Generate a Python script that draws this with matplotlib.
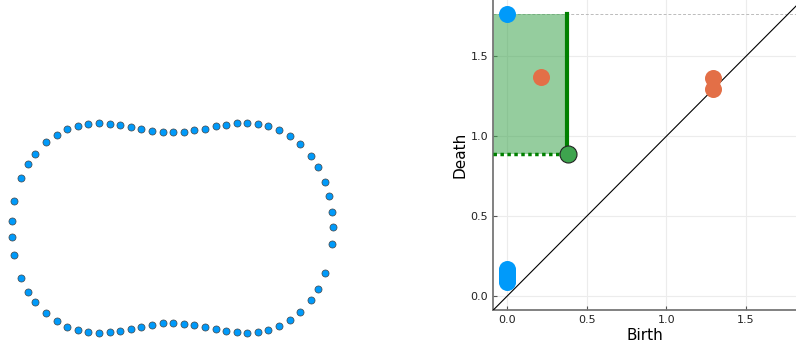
import matplotlib.pyplot as plt
import numpy as np

# point cloud (pixel-like units, y grows downward)
cloud_x = [77.7, 88.3, 99, 109.7, 120.3, 131, 141.3, 152, 162.7, 173.3, 183.7, 194.3,
           205, 215.7, 226.3, 237, 247.3, 257.7, 268.3, 279, 289.7, 300.3, 310.7, 318,
           325.3, 329.3, 332.3, 333, 332.3, 325.3, 318, 310.7, 300.3, 289.7, 279, 268.3,
           257.7, 247.3, 237, 226.3, 215.7, 205, 194.3, 183.7, 173.3, 162.7, 152, 141.3,
           131, 120.3, 109.7, 99, 88.3, 77.7, 67.3, 56.7, 46.3, 35.3, 28.3, 21.3,
           14.3, 11.7, 11.7, 14.3, 21.3, 28.3, 35.3, 46.3, 56.7, 67.3]
cloud_y = [125.7, 123.7, 123, 123.7, 125.3, 127, 129.3, 131, 132.3, 132.3, 132, 130.3,
           128.7, 126.3, 124.7, 123.3, 123.3, 124.3, 126.3, 130.3, 136, 144.3, 156, 167.3,
           182.3, 196.3, 212, 226.7, 244, 273.3, 288.7, 299.7, 311.7, 320, 326, 329.7,
           331.7, 332.7, 332.3, 331, 329.3, 327.3, 325.3, 323.7, 323, 323.3, 325, 327,
           329, 330.7, 332, 332.7, 332, 330, 326.7, 321.3, 313.3, 302, 292, 278,
           255, 236.7, 221.3, 200.7, 178, 164, 153.7, 142.3, 134.7, 129.3]

# persistence diagram
h0_birth = [0.0, 0.0, 0.0, 0.0, 0.0, 0.0, 0.0, 0.0, 0.0]
h0_death = [1.767, 0.09, 0.10, 0.115, 0.13, 0.14, 0.15, 0.16, 0.17]
h1_birth = [0.211, 1.29, 1.295]
h1_death = [1.369, 1.366, 1.296]
sel_birth = 0.385
sel_death = 0.891
inf_death = 1.767

blue = '#009AFA'
orange = '#E36F47'
green = '#3EA44E'

fig = plt.figure(figsize=(7.96, 3.5), dpi=100)

ax1 = fig.add_axes([0, 0, 0.5, 1])
ax1.scatter(cloud_x, cloud_y, s=26, color=blue, edgecolors='#444444', linewidths=0.5)
ax1.set_xlim(0, 398)
ax1.set_ylim(350, 0)
ax1.axis('off')

xlo, xhi = -0.088, 1.814
ylo, yhi = -0.086, 1.852
ax2 = fig.add_axes([493/796, 40/350, 303/796, 310/350])
ax2.set_xlim(xlo, xhi)
ax2.set_ylim(ylo, yhi)
ax2.grid(True, color='#ececec', linewidth=0.8)
ax2.set_axisbelow(True)

ax2.axhline(inf_death, color='#bbbbbb', linestyle='--', linewidth=0.7, dashes=(3, 2), zorder=1)
ax2.fill_between([xlo, sel_birth - 0.008], sel_death, inf_death, color=green, alpha=0.55,
                 linewidth=0, zorder=2)
ax2.plot([sel_birth - 0.008, sel_birth - 0.008], [sel_death, inf_death], color='green',
         linewidth=3, zorder=3)
ax2.plot([xlo, sel_birth], [sel_death, sel_death], color='green', linewidth=2.5,
         linestyle=(0, (1, 1)), zorder=3)
ax2.plot([-1, 3], [-1, 3], color='black', linewidth=0.8, zorder=3)

ax2.scatter(h0_birth, h0_death, s=150, color=blue, linewidths=0, zorder=4)
ax2.scatter(h1_birth, h1_death, s=150, color=orange, linewidths=0, zorder=4)
ax2.scatter([sel_birth], [sel_death], s=150, color=green, edgecolors='#222222',
            linewidths=0.8, zorder=5)

ax2.set_xticks([0.0, 0.5, 1.0, 1.5])
ax2.set_yticks([0.0, 0.5, 1.0, 1.5])
ax2.set_xticklabels(['0.0', '0.5', '1.0', '1.5'])
ax2.set_yticklabels(['0.0', '0.5', '1.0', '1.5'])
ax2.tick_params(labelsize=8, direction='in', length=3, color='#555555', labelcolor='#222222')
for s in ['top', 'right']:
    ax2.spines[s].set_visible(False)
for s in ['left', 'bottom']:
    ax2.spines[s].set_color('#777777')
    ax2.spines[s].set_linewidth(1.3)
ax2.set_xlabel('Birth', fontsize=11, labelpad=2)
ax2.set_ylabel('Death', fontsize=11, labelpad=2)

plt.savefig('out.png', dpi=100)
